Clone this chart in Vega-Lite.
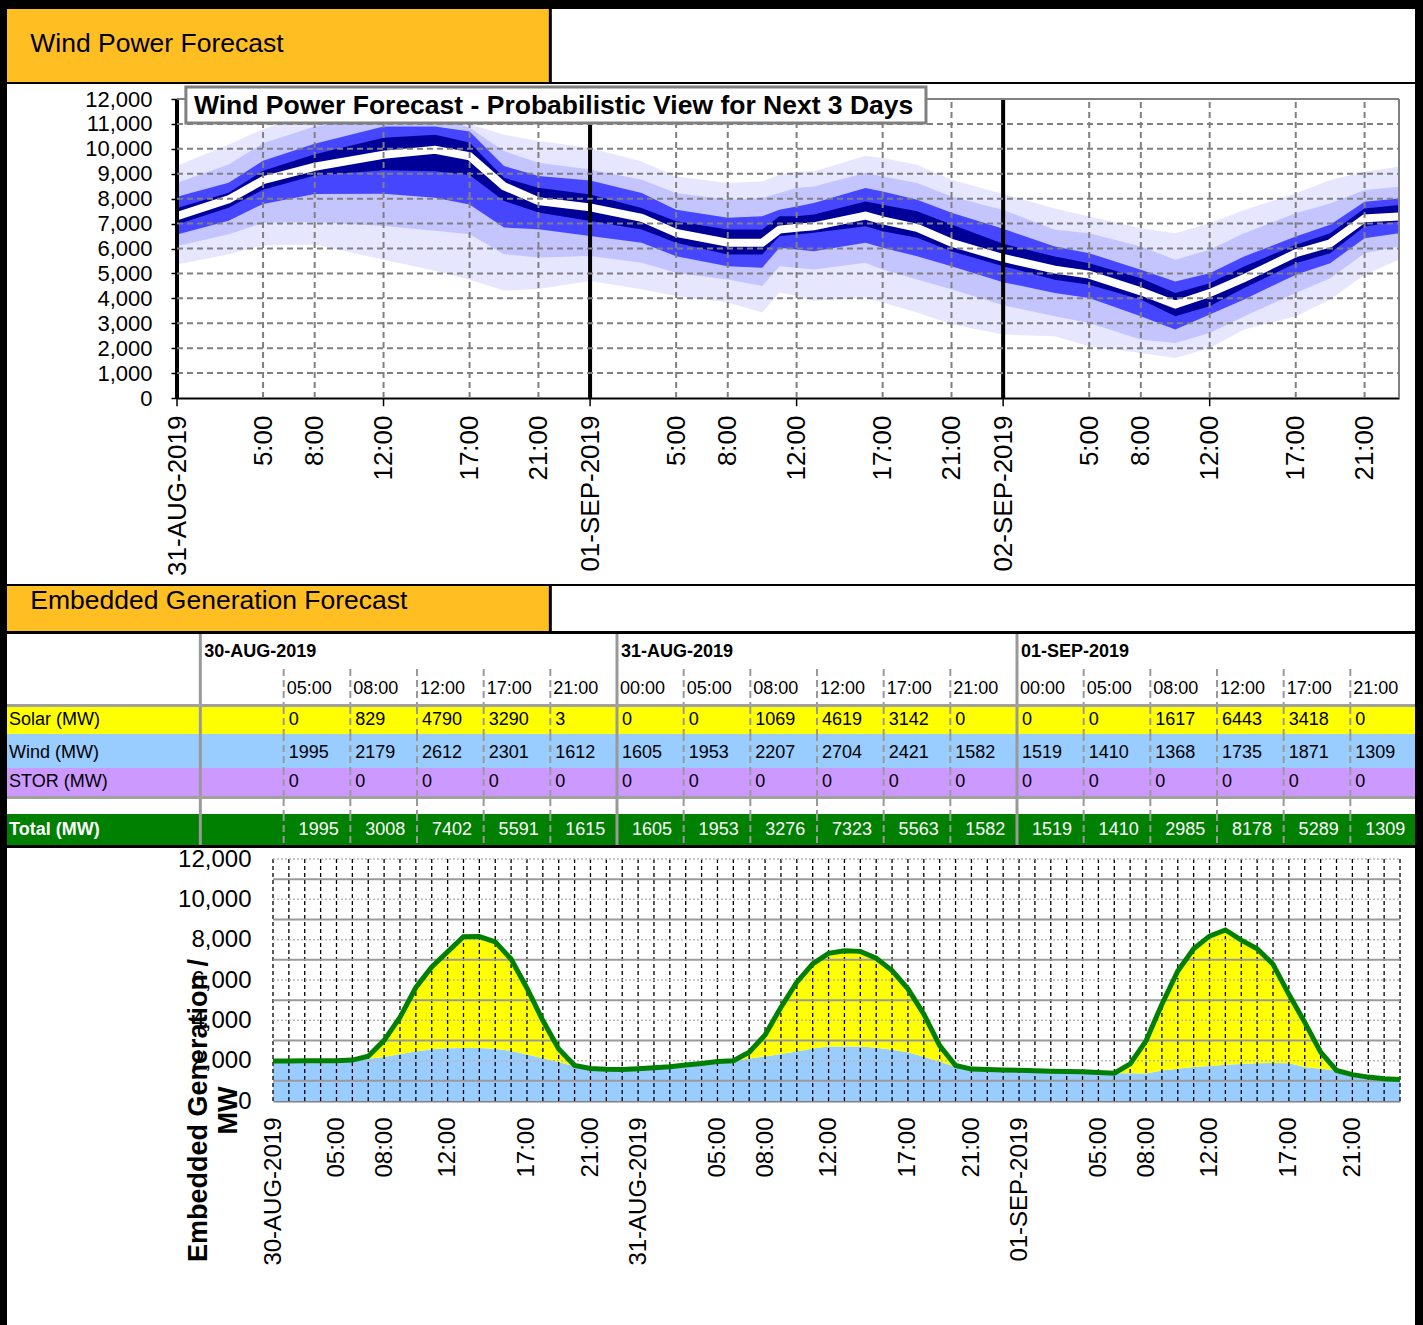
{
"$schema": "https://vega.github.io/schema/vega-lite/v6.json",
"background": "black",
"padding": {"left": 7, "top": 7, "right": 8, "bottom": 0},
"config": {
  "font": "Liberation Sans",
  "view": {"stroke": null},
  "concat": {"spacing": 0},
  "axis": {"labelFont": "Liberation Sans", "titleFont": "Liberation Sans", "labelColor": "black", "titleColor": "black"},
  "text": {"font": "Liberation Sans", "color": "black"}
},
"datasets": {
  "bands": [
    {"t":"2019-08-31T00:00Z","hi4":9320,"hi3":8630,"hi2":8080,"hi1":7630,"med":7300,"lo1":6960,"lo2":6560,"lo3":6100,"lo4":5360},
    {"t":"2019-08-31T03:00Z","hi4":10170,"hi3":9370,"hi2":8640,"hi1":8240,"med":7970,"lo1":7640,"lo2":7110,"lo3":6570,"lo4":5770},
    {"t":"2019-08-31T05:00Z","hi4":10790,"hi3":10220,"hi2":9520,"hi1":9120,"med":8740,"lo1":8360,"lo2":7790,"lo3":7030,"lo4":6120},
    {"t":"2019-08-31T08:00Z","hi4":11500,"hi3":10900,"hi2":10200,"hi1":9780,"med":9280,"lo1":8930,"lo2":8190,"lo3":7060,"lo4":6160},
    {"t":"2019-08-31T12:00Z","hi4":11800,"hi3":11300,"hi2":10900,"hi1":10440,"med":9760,"lo1":9140,"lo2":8200,"lo3":6900,"lo4":5550},
    {"t":"2019-08-31T15:00Z","hi4":11700,"hi3":11300,"hi2":10900,"hi1":10570,"med":9960,"lo1":9100,"lo2":8040,"lo3":6710,"lo4":5110},
    {"t":"2019-08-31T17:00Z","hi4":11000,"hi3":10850,"hi2":10700,"hi1":10250,"med":9700,"lo1":8950,"lo2":7770,"lo3":6570,"lo4":4750},
    {"t":"2019-08-31T19:00Z","hi4":10570,"hi3":9910,"hi2":9310,"hi1":8840,"med":8500,"lo1":7910,"lo2":6840,"lo3":5770,"lo4":4310},
    {"t":"2019-08-31T21:00Z","hi4":10310,"hi3":9440,"hi2":8910,"hi1":8440,"med":7900,"lo1":7440,"lo2":6770,"lo3":5640,"lo4":4370},
    {"t":"2019-09-01T00:00Z","hi4":10030,"hi3":9170,"hi2":8730,"hi1":8170,"med":7650,"lo1":7100,"lo2":6500,"lo3":5700,"lo4":4700},
    {"t":"2019-09-01T03:00Z","hi4":9490,"hi3":8760,"hi2":8230,"hi1":7630,"med":7230,"lo1":6760,"lo2":6230,"lo3":5430,"lo4":4360},
    {"t":"2019-09-01T05:00Z","hi4":8890,"hi3":8230,"hi2":7560,"hi1":7090,"med":6630,"lo1":6230,"lo2":5690,"lo3":5030,"lo4":4090},
    {"t":"2019-09-01T08:00Z","hi4":8630,"hi3":7960,"hi2":7230,"hi1":6760,"med":6230,"lo1":5760,"lo2":5290,"lo3":4760,"lo4":3830},
    {"t":"2019-09-01T10:00Z","hi4":8690,"hi3":8030,"hi2":7290,"hi1":6760,"med":6230,"lo1":5760,"lo2":5230,"lo3":4490,"lo4":3430},
    {"t":"2019-09-01T11:00Z","hi4":8960,"hi3":8230,"hi2":7560,"hi1":7290,"med":6760,"lo1":6490,"lo2":6030,"lo3":5290,"lo4":4230},
    {"t":"2019-09-01T12:00Z","hi4":9090,"hi3":8430,"hi2":7690,"hi1":7290,"med":6830,"lo1":6560,"lo2":5960,"lo3":5230,"lo4":4090},
    {"t":"2019-09-01T13:00Z","hi4":9090,"hi3":8490,"hi2":7830,"hi1":7360,"med":6890,"lo1":6630,"lo2":5890,"lo3":5160,"lo4":3900},
    {"t":"2019-09-01T16:00Z","hi4":9720,"hi3":9030,"hi2":8430,"hi1":7890,"med":7320,"lo1":6890,"lo2":6230,"lo3":5430,"lo4":4030},
    {"t":"2019-09-01T17:00Z","hi4":9630,"hi3":8890,"hi2":8290,"hi1":7760,"med":7130,"lo1":6690,"lo2":6030,"lo3":5160,"lo4":3830},
    {"t":"2019-09-01T19:00Z","hi4":9360,"hi3":8630,"hi2":7960,"hi1":7490,"med":6830,"lo1":6430,"lo2":5690,"lo3":4760,"lo4":3430},
    {"t":"2019-09-01T21:00Z","hi4":8760,"hi3":8090,"hi2":7430,"hi1":6960,"med":6230,"lo1":5890,"lo2":5290,"lo3":4360,"lo4":2960},
    {"t":"2019-09-02T00:00Z","hi4":8190,"hi3":7550,"hi2":6790,"hi1":6190,"med":5620,"lo1":5290,"lo2":4650,"lo3":3720,"lo4":2550},
    {"t":"2019-09-02T03:00Z","hi4":7610,"hi3":6750,"hi2":6080,"hi1":5680,"med":5150,"lo1":4750,"lo2":4210,"lo3":3280,"lo4":2480},
    {"t":"2019-09-02T05:00Z","hi4":7280,"hi3":6610,"hi2":5810,"hi1":5410,"med":4950,"lo1":4550,"lo2":4010,"lo3":3010,"lo4":2080},
    {"t":"2019-09-02T08:00Z","hi4":6810,"hi3":6080,"hi2":5150,"hi1":4810,"med":4280,"lo1":3950,"lo2":3280,"lo3":2350,"lo4":1810},
    {"t":"2019-09-02T10:00Z","hi4":6610,"hi3":5550,"hi2":4680,"hi1":4210,"med":3750,"lo1":3280,"lo2":2750,"lo3":2210,"lo4":1610},
    {"t":"2019-09-02T12:00Z","hi4":7010,"hi3":5950,"hi2":5010,"hi1":4610,"med":4210,"lo1":3680,"lo2":3350,"lo3":2610,"lo4":2010},
    {"t":"2019-09-02T14:00Z","hi4":7550,"hi3":6610,"hi2":5680,"hi1":5280,"med":4810,"lo1":4410,"lo2":3950,"lo3":3280,"lo4":2750},
    {"t":"2019-09-02T17:00Z","hi4":8210,"hi3":7410,"hi2":6480,"hi1":6150,"med":5810,"lo1":5410,"lo2":4950,"lo3":4210,"lo4":3280},
    {"t":"2019-09-02T19:00Z","hi4":8750,"hi3":7810,"hi2":6950,"hi1":6610,"med":6210,"lo1":5810,"lo2":5410,"lo3":4810,"lo4":3950},
    {"t":"2019-09-02T21:00Z","hi4":9080,"hi3":8350,"hi2":7880,"hi1":7610,"med":7210,"lo1":6880,"lo2":6410,"lo3":5810,"lo4":4950},
    {"t":"2019-09-02T23:00Z","hi4":9280,"hi3":8480,"hi2":8010,"hi1":7750,"med":7280,"lo1":7080,"lo2":6610,"lo3":6080,"lo4":5550}
  ],
  "gen": [
    {"t":"2019-08-30T01:00Z","wind":1980,"solar":0,"total":1980},
    {"t":"2019-08-30T02:00Z","wind":1985,"solar":0,"total":1985},
    {"t":"2019-08-30T03:00Z","wind":1990,"solar":0,"total":1990},
    {"t":"2019-08-30T04:00Z","wind":1992,"solar":0,"total":1992},
    {"t":"2019-08-30T05:00Z","wind":1995,"solar":0,"total":1995},
    {"t":"2019-08-30T06:00Z","wind":2030,"solar":0,"total":2030},
    {"t":"2019-08-30T07:00Z","wind":2100,"solar":120,"total":2220},
    {"t":"2019-08-30T08:00Z","wind":2179,"solar":829,"total":3008},
    {"t":"2019-08-30T09:00Z","wind":2330,"solar":1820,"total":4150},
    {"t":"2019-08-30T10:00Z","wind":2460,"solar":3170,"total":5630},
    {"t":"2019-08-30T11:00Z","wind":2560,"solar":4090,"total":6650},
    {"t":"2019-08-30T12:00Z","wind":2612,"solar":4790,"total":7402},
    {"t":"2019-08-30T13:00Z","wind":2630,"solar":5520,"total":8150},
    {"t":"2019-08-30T14:00Z","wind":2625,"solar":5530,"total":8155},
    {"t":"2019-08-30T15:00Z","wind":2590,"solar":5300,"total":7890},
    {"t":"2019-08-30T16:00Z","wind":2480,"solar":4560,"total":7040},
    {"t":"2019-08-30T17:00Z","wind":2301,"solar":3290,"total":5591},
    {"t":"2019-08-30T18:00Z","wind":2120,"solar":1870,"total":3990},
    {"t":"2019-08-30T19:00Z","wind":1930,"solar":650,"total":2580},
    {"t":"2019-08-30T20:00Z","wind":1720,"solar":40,"total":1760},
    {"t":"2019-08-30T21:00Z","wind":1612,"solar":3,"total":1615},
    {"t":"2019-08-30T22:00Z","wind":1570,"solar":0,"total":1570},
    {"t":"2019-08-30T23:00Z","wind":1560,"solar":0,"total":1560},
    {"t":"2019-08-31T00:00Z","wind":1605,"solar":0,"total":1605},
    {"t":"2019-08-31T01:00Z","wind":1650,"solar":0,"total":1650},
    {"t":"2019-08-31T02:00Z","wind":1700,"solar":0,"total":1700},
    {"t":"2019-08-31T03:00Z","wind":1780,"solar":0,"total":1780},
    {"t":"2019-08-31T04:00Z","wind":1860,"solar":0,"total":1860},
    {"t":"2019-08-31T05:00Z","wind":1953,"solar":0,"total":1953},
    {"t":"2019-08-31T06:00Z","wind":2000,"solar":0,"total":2000},
    {"t":"2019-08-31T07:00Z","wind":2110,"solar":310,"total":2420},
    {"t":"2019-08-31T08:00Z","wind":2207,"solar":1069,"total":3276},
    {"t":"2019-08-31T09:00Z","wind":2330,"solar":2320,"total":4650},
    {"t":"2019-08-31T10:00Z","wind":2450,"solar":3440,"total":5890},
    {"t":"2019-08-31T11:00Z","wind":2600,"solar":4200,"total":6800},
    {"t":"2019-08-31T12:00Z","wind":2704,"solar":4619,"total":7323},
    {"t":"2019-08-31T13:00Z","wind":2700,"solar":4750,"total":7450},
    {"t":"2019-08-31T14:00Z","wind":2700,"solar":4720,"total":7420},
    {"t":"2019-08-31T15:00Z","wind":2640,"solar":4440,"total":7080},
    {"t":"2019-08-31T16:00Z","wind":2540,"solar":3930,"total":6470},
    {"t":"2019-08-31T17:00Z","wind":2421,"solar":3142,"total":5563},
    {"t":"2019-08-31T18:00Z","wind":2200,"solar":2110,"total":4310},
    {"t":"2019-08-31T19:00Z","wind":1950,"solar":800,"total":2750},
    {"t":"2019-08-31T20:00Z","wind":1700,"solar":60,"total":1760},
    {"t":"2019-08-31T21:00Z","wind":1582,"solar":0,"total":1582},
    {"t":"2019-08-31T22:00Z","wind":1560,"solar":0,"total":1560},
    {"t":"2019-08-31T23:00Z","wind":1540,"solar":0,"total":1540},
    {"t":"2019-09-01T00:00Z","wind":1519,"solar":0,"total":1519},
    {"t":"2019-09-01T01:00Z","wind":1500,"solar":0,"total":1500},
    {"t":"2019-09-01T02:00Z","wind":1480,"solar":0,"total":1480},
    {"t":"2019-09-01T03:00Z","wind":1465,"solar":0,"total":1465},
    {"t":"2019-09-01T04:00Z","wind":1450,"solar":0,"total":1450},
    {"t":"2019-09-01T05:00Z","wind":1410,"solar":0,"total":1410},
    {"t":"2019-09-01T06:00Z","wind":1380,"solar":0,"total":1380},
    {"t":"2019-09-01T07:00Z","wind":1370,"solar":470,"total":1840},
    {"t":"2019-09-01T08:00Z","wind":1368,"solar":1617,"total":2985},
    {"t":"2019-09-01T09:00Z","wind":1510,"solar":3290,"total":4800},
    {"t":"2019-09-01T10:00Z","wind":1600,"solar":4850,"total":6450},
    {"t":"2019-09-01T11:00Z","wind":1680,"solar":5870,"total":7550},
    {"t":"2019-09-01T12:00Z","wind":1735,"solar":6443,"total":8178},
    {"t":"2019-09-01T13:00Z","wind":1800,"solar":6680,"total":8480},
    {"t":"2019-09-01T14:00Z","wind":1840,"solar":6140,"total":7980},
    {"t":"2019-09-01T15:00Z","wind":1870,"solar":5680,"total":7550},
    {"t":"2019-09-01T16:00Z","wind":1880,"solar":4900,"total":6780},
    {"t":"2019-09-01T17:00Z","wind":1871,"solar":3418,"total":5289},
    {"t":"2019-09-01T18:00Z","wind":1680,"solar":2220,"total":3900},
    {"t":"2019-09-01T19:00Z","wind":1600,"solar":820,"total":2420},
    {"t":"2019-09-01T20:00Z","wind":1515,"solar":0,"total":1515},
    {"t":"2019-09-01T21:00Z","wind":1309,"solar":0,"total":1309},
    {"t":"2019-09-01T22:00Z","wind":1185,"solar":0,"total":1185},
    {"t":"2019-09-01T23:00Z","wind":1100,"solar":0,"total":1100},
    {"t":"2019-09-02T00:00Z","wind":1070,"solar":0,"total":1070}
  ],
  "table": [
    {"col":0,"date":"30-AUG-2019","time":"05:00","solar":0,"wind":1995,"stor":0,"total":1995},
    {"col":1,"date":"30-AUG-2019","time":"08:00","solar":829,"wind":2179,"stor":0,"total":3008},
    {"col":2,"date":"30-AUG-2019","time":"12:00","solar":4790,"wind":2612,"stor":0,"total":7402},
    {"col":3,"date":"30-AUG-2019","time":"17:00","solar":3290,"wind":2301,"stor":0,"total":5591},
    {"col":4,"date":"30-AUG-2019","time":"21:00","solar":3,"wind":1612,"stor":0,"total":1615},
    {"col":5,"date":"31-AUG-2019","time":"00:00","solar":0,"wind":1605,"stor":0,"total":1605},
    {"col":6,"date":"31-AUG-2019","time":"05:00","solar":0,"wind":1953,"stor":0,"total":1953},
    {"col":7,"date":"31-AUG-2019","time":"08:00","solar":1069,"wind":2207,"stor":0,"total":3276},
    {"col":8,"date":"31-AUG-2019","time":"12:00","solar":4619,"wind":2704,"stor":0,"total":7323},
    {"col":9,"date":"31-AUG-2019","time":"17:00","solar":3142,"wind":2421,"stor":0,"total":5563},
    {"col":10,"date":"31-AUG-2019","time":"21:00","solar":0,"wind":1582,"stor":0,"total":1582},
    {"col":11,"date":"01-SEP-2019","time":"00:00","solar":0,"wind":1519,"stor":0,"total":1519},
    {"col":12,"date":"01-SEP-2019","time":"05:00","solar":0,"wind":1410,"stor":0,"total":1410},
    {"col":13,"date":"01-SEP-2019","time":"08:00","solar":1617,"wind":1368,"stor":0,"total":2985},
    {"col":14,"date":"01-SEP-2019","time":"12:00","solar":6443,"wind":1735,"stor":0,"total":8178},
    {"col":15,"date":"01-SEP-2019","time":"17:00","solar":3418,"wind":1871,"stor":0,"total":5289},
    {"col":16,"date":"01-SEP-2019","time":"21:00","solar":0,"wind":1309,"stor":0,"total":1309}
  ]
},
"spacing": 0,
"bounds": "flush",
"vconcat": [
  {"width": 1408, "height": 73, "view": {"fill": "white"}, "data": {"values": [{}]},
   "layer": [
    {"mark": {"type": "rect", "color": "#FFBF22"},
     "encoding": {"x": {"datum": -4.15, "scale": {"domain": [-4.15, 16.97], "nice": false, "zero": false}, "axis": null}, "x2": {"datum": 4},
                  "y": {"datum": 0, "scale": {"domain": [0, 1], "nice": false}, "axis": null}, "y2": {"datum": 1}}},
    {"mark": {"type": "rule", "color": "black", "strokeWidth": 3}, "encoding": {"x": {"datum": 4, "axis": null}}},
    {"mark": {"type": "text", "text": "Wind Power Forecast", "align": "left", "fontSize": 26.5, "dy": -2}, "encoding": {"x": {"datum": -3.8, "axis": null}}}
   ]},
  {"width": 1408, "height": 2, "data": {"values": []}, "mark": "point", "view": {"fill": "black"}},
  {"width": 1408, "height": 500, "view": {"fill": "white"}, "data": {"name": "bands"},
   "resolve": {"axis": {"x": "independent", "y": "independent"}},
   "layer": [
    {"mark": {"type": "area", "color": "#E6E6FF"},
     "encoding": {
       "x": {"field": "t", "type": "temporal",
             "scale": {"type": "utc", "domain": [1567209600000, 1567465200000], "range": [170, 1392], "nice": false},
             "axis": {"orient": "bottom", "offset": -186,
                      "values": [1567209600000,1567227600000,1567238400000,1567252800000,1567270800000,1567285200000,1567296000000,1567314000000,1567324800000,1567339200000,1567357200000,1567371600000,1567382400000,1567400400000,1567411200000,1567425600000,1567443600000,1567458000000],
                      "labelExpr": "utchours(datum.value)==0 ? upper(utcFormat(datum.value,'%d-%b-%Y')) : utcFormat(datum.value,'%-H:%M')",
                      "labelAngle": -90, "labelFontSize": 26, "labelPadding": 17, "labelOverlap": false, "labelFlush": false,
                      "ticks": false, "domainColor": "black", "domainWidth": 2, "grid": false, "title": null}},
       "y": {"field": "hi4", "type": "quantitative",
             "scale": {"domain": [0, 12000], "range": [314, 15], "nice": false},
             "axis": {"orient": "left", "offset": -170,
                      "values": [0,1000,2000,3000,4000,5000,6000,7000,8000,9000,10000,11000,12000],
                      "format": ",d", "labelFontSize": 22, "labelPadding": 19, "labelOverlap": false,
                      "tickSize": 6, "tickColor": "black", "tickWidth": 1.5,
                      "domainColor": "black", "domainWidth": 3, "grid": false, "title": null}},
       "y2": {"field": "lo4"}}},
    {"mark": {"type": "area", "color": "#C4C4FF"},
     "encoding": {"x": {"field": "t", "type": "temporal", "axis": null},
                  "y": {"field": "hi3", "type": "quantitative", "axis": null}, "y2": {"field": "lo3"}}},
    {"mark": {"type": "area", "color": "#4646FF"},
     "encoding": {"x": {"field": "t", "type": "temporal", "axis": null},
                  "y": {"field": "hi2", "type": "quantitative", "axis": null}, "y2": {"field": "lo2"}}},
    {"mark": {"type": "area", "color": "#000099"},
     "encoding": {"x": {"field": "t", "type": "temporal", "axis": null},
                  "y": {"field": "hi1", "type": "quantitative", "axis": null}, "y2": {"field": "lo1"}}},
    {"mark": {"type": "line", "color": "white", "strokeWidth": 8},
     "encoding": {"x": {"field": "t", "type": "temporal", "axis": null},
                  "y": {"field": "med", "type": "quantitative", "axis": null}}},
    {"transform": [{"filter": "indexof([0,5,8,12,17,21,23], utchours(datum.t)) >= 0"}],
     "mark": {"type": "rule"},
     "encoding": {"x": {"field": "t", "type": "temporal", "axis": null},
                  "y": {"datum": 0, "axis": null}, "y2": {"datum": 12000},
                  "color": {"condition": {"test": "utchours(datum.t) == 0", "value": "black"}, "value": "#808080"},
                  "strokeWidth": {"condition": {"test": "utchours(datum.t) == 0", "value": 4}, "value": 2},
                  "strokeDash": {"condition": {"test": "utchours(datum.t) == 0 || utchours(datum.t) == 23", "value": [1, 0]}, "value": [6, 4]}}},
    {"transform": [{"filter": "utchours(datum.t) % 12 == 0"}],
     "mark": {"type": "rule", "color": "black", "strokeWidth": 1.5},
     "encoding": {"x": {"field": "t", "type": "temporal", "axis": null},
                  "y": {"datum": 0, "axis": null}, "y2": {"datum": -330}}},
    {"data": {"values": [{"v":1000},{"v":2000},{"v":3000},{"v":4000},{"v":5000},{"v":6000},{"v":7000},{"v":8000},{"v":9000},{"v":10000},{"v":11000},{"v":12000}]},
     "mark": {"type": "rule", "color": "#808080", "strokeWidth": 2},
     "encoding": {"y": {"field": "v", "type": "quantitative", "axis": null},
                  "x": {"datum": {"year": 2019, "month": 8, "date": 31, "hours": 0, "utc": true}, "axis": null},
                  "x2": {"datum": {"year": 2019, "month": 9, "date": 2, "hours": 23, "utc": true}},
                  "strokeDash": {"condition": {"test": "datum.v == 12000", "value": [1, 0]}, "value": [6, 4]}}},
    {"data": {"values": [{}]},
     "mark": {"type": "rect", "fill": "white", "stroke": "#808080", "strokeWidth": 3},
     "encoding": {"x": {"datum": {"year": 2019, "month": 8, "date": 31, "hours": 0, "minutes": 31, "utc": true}, "axis": null},
                  "x2": {"datum": {"year": 2019, "month": 9, "date": 1, "hours": 19, "minutes": 31, "utc": true}},
                  "y": {"datum": 12480, "axis": null}, "y2": {"datum": 11040}}},
    {"data": {"values": [{}]},
     "mark": {"type": "text", "text": "Wind Power Forecast - Probabilistic View for Next 3 Days", "align": "left", "baseline": "alphabetic", "fontSize": 26.5, "fontWeight": "bold"},
     "encoding": {"x": {"datum": {"year": 2019, "month": 8, "date": 31, "hours": 0, "minutes": 59, "utc": true}, "axis": null},
                  "y": {"datum": 11398, "axis": null}}}
   ]},
  {"width": 1408, "height": 2, "data": {"values": []}, "mark": "point", "view": {"fill": "black"}},
  {"width": 1408, "height": 45, "view": {"fill": "white"}, "data": {"values": [{}]},
   "layer": [
    {"mark": {"type": "rect", "color": "#FFBF22"},
     "encoding": {"x": {"datum": -4.15, "scale": {"domain": [-4.15, 16.97], "nice": false, "zero": false}, "axis": null}, "x2": {"datum": 4},
                  "y": {"datum": 0, "scale": {"domain": [0, 1], "nice": false}, "axis": null}, "y2": {"datum": 1}}},
    {"mark": {"type": "rule", "color": "black", "strokeWidth": 3}, "encoding": {"x": {"datum": 4, "axis": null}}},
    {"mark": {"type": "text", "text": "Embedded Generation Forecast", "align": "left", "fontSize": 26.5, "dy": -8}, "encoding": {"x": {"datum": -3.8, "axis": null}}}
   ]},
  {"width": 1408, "height": 3, "data": {"values": []}, "mark": "point", "view": {"fill": "black"}},
  {"width": 1408, "height": 35, "view": {"fill": "white"}, "data": {"name": "table"},
   "layer": [
    {"transform": [{"filter": "datum.time == '00:00'"}], "mark": {"type": "rule", "color": "#999999", "strokeWidth": 3},
     "encoding": {"x": {"field": "col", "type": "quantitative", "scale": {"domain": [-4.15, 16.97], "nice": false, "zero": false}, "axis": null}}},
    {"data": {"values": [{}]}, "mark": {"type": "rule", "color": "#999999", "strokeWidth": 3},
     "encoding": {"x": {"datum": -1.25, "axis": null}}},
    {"transform": [{"filter": "datum.time == '00:00'"}], "mark": {"type": "text", "align": "left", "dx": 4, "fontSize": 18, "fontWeight": "bold"},
     "encoding": {"x": {"field": "col", "type": "quantitative", "axis": null}, "text": {"field": "date", "type": "nominal"}}},
    {"data": {"values": [{}]}, "mark": {"type": "text", "text": "30-AUG-2019", "align": "left", "dx": 4, "fontSize": 18, "fontWeight": "bold"},
     "encoding": {"x": {"datum": -1.25, "axis": null}}}
   ]},
  {"width": 1408, "height": 35, "view": {"fill": "white"}, "data": {"name": "table"},
   "layer": [
    {"transform": [{"filter": "datum.time != '00:00'"}], "mark": {"type": "rule", "color": "#999999", "strokeWidth": 2, "strokeDash": [7, 4]},
     "encoding": {"x": {"field": "col", "type": "quantitative", "scale": {"domain": [-4.15, 16.97], "nice": false, "zero": false}, "axis": null}}},
    {"transform": [{"filter": "datum.time == '00:00'"}], "mark": {"type": "rule", "color": "#999999", "strokeWidth": 3},
     "encoding": {"x": {"field": "col", "type": "quantitative", "axis": null}}},
    {"data": {"values": [{}]}, "mark": {"type": "rule", "color": "#999999", "strokeWidth": 3},
     "encoding": {"x": {"datum": -1.25, "axis": null}}},
    {"mark": {"type": "text", "align": "left", "dx": 3, "dy": 2, "fontSize": 18},
     "encoding": {"x": {"field": "col", "type": "quantitative", "axis": null}, "text": {"field": "time", "type": "nominal"}}}
   ]},
  {"width": 1408, "height": 3, "data": {"values": []}, "mark": "point", "view": {"fill": "#A0A0A0"}},
  {"width": 1408, "height": 27, "view": {"fill": "#FFFF00"}, "data": {"name": "table"},
   "layer": [
    {"transform": [{"filter": "datum.time != '00:00'"}], "mark": {"type": "rule", "color": "#999999", "strokeWidth": 2, "strokeDash": [7, 4]},
     "encoding": {"x": {"field": "col", "type": "quantitative", "scale": {"domain": [-4.15, 16.97], "nice": false, "zero": false}, "axis": null}}},
    {"transform": [{"filter": "datum.time == '00:00'"}], "mark": {"type": "rule", "color": "#999999", "strokeWidth": 3},
     "encoding": {"x": {"field": "col", "type": "quantitative", "axis": null}}},
    {"data": {"values": [{}]}, "mark": {"type": "rule", "color": "#999999", "strokeWidth": 3},
     "encoding": {"x": {"datum": -1.25, "axis": null}}},
    {"data": {"values": [{}]}, "mark": {"type": "text", "text": "Solar (MW)", "align": "left", "dy": -1, "fontSize": 18},
     "encoding": {"x": {"datum": -4.12, "axis": null}}},
    {"mark": {"type": "text", "align": "left", "dx": 5, "dy": -1, "fontSize": 18},
     "encoding": {"x": {"field": "col", "type": "quantitative", "axis": null}, "text": {"field": "solar", "type": "nominal"}}}
   ]},
  {"width": 1408, "height": 34, "view": {"fill": "#99CCFF"}, "data": {"name": "table"},
   "layer": [
    {"transform": [{"filter": "datum.time != '00:00'"}], "mark": {"type": "rule", "color": "#999999", "strokeWidth": 2, "strokeDash": [7, 4]},
     "encoding": {"x": {"field": "col", "type": "quantitative", "scale": {"domain": [-4.15, 16.97], "nice": false, "zero": false}, "axis": null}}},
    {"transform": [{"filter": "datum.time == '00:00'"}], "mark": {"type": "rule", "color": "#999999", "strokeWidth": 3},
     "encoding": {"x": {"field": "col", "type": "quantitative", "axis": null}}},
    {"data": {"values": [{}]}, "mark": {"type": "rule", "color": "#999999", "strokeWidth": 3},
     "encoding": {"x": {"datum": -1.25, "axis": null}}},
    {"data": {"values": [{}]}, "mark": {"type": "text", "text": "Wind (MW)", "align": "left", "dy": 2, "fontSize": 18},
     "encoding": {"x": {"datum": -4.12, "axis": null}}},
    {"mark": {"type": "text", "align": "left", "dx": 5, "dy": 2, "fontSize": 18},
     "encoding": {"x": {"field": "col", "type": "quantitative", "axis": null}, "text": {"field": "wind", "type": "nominal"}}}
   ]},
  {"width": 1408, "height": 28, "view": {"fill": "#CC99FF"}, "data": {"name": "table"},
   "layer": [
    {"transform": [{"filter": "datum.time != '00:00'"}], "mark": {"type": "rule", "color": "#999999", "strokeWidth": 2, "strokeDash": [7, 4]},
     "encoding": {"x": {"field": "col", "type": "quantitative", "scale": {"domain": [-4.15, 16.97], "nice": false, "zero": false}, "axis": null}}},
    {"transform": [{"filter": "datum.time == '00:00'"}], "mark": {"type": "rule", "color": "#999999", "strokeWidth": 3},
     "encoding": {"x": {"field": "col", "type": "quantitative", "axis": null}}},
    {"data": {"values": [{}]}, "mark": {"type": "rule", "color": "#999999", "strokeWidth": 3},
     "encoding": {"x": {"datum": -1.25, "axis": null}}},
    {"data": {"values": [{}]}, "mark": {"type": "text", "text": "STOR (MW)", "align": "left", "fontSize": 18},
     "encoding": {"x": {"datum": -4.12, "axis": null}}},
    {"mark": {"type": "text", "align": "left", "dx": 5, "fontSize": 18},
     "encoding": {"x": {"field": "col", "type": "quantitative", "axis": null}, "text": {"field": "stor", "type": "nominal"}}}
   ]},
  {"width": 1408, "height": 3, "data": {"values": []}, "mark": "point", "view": {"fill": "#A0A0A0"}},
  {"width": 1408, "height": 15, "view": {"fill": "white"}, "data": {"name": "table"},
   "layer": [
    {"transform": [{"filter": "datum.time != '00:00'"}], "mark": {"type": "rule", "color": "#999999", "strokeWidth": 2, "strokeDash": [7, 4]},
     "encoding": {"x": {"field": "col", "type": "quantitative", "scale": {"domain": [-4.15, 16.97], "nice": false, "zero": false}, "axis": null}}},
    {"transform": [{"filter": "datum.time == '00:00'"}], "mark": {"type": "rule", "color": "#999999", "strokeWidth": 3},
     "encoding": {"x": {"field": "col", "type": "quantitative", "axis": null}}},
    {"data": {"values": [{}]}, "mark": {"type": "rule", "color": "#999999", "strokeWidth": 3},
     "encoding": {"x": {"datum": -1.25, "axis": null}}}
   ]},
  {"width": 1408, "height": 31, "view": {"fill": "#008000"}, "data": {"name": "table"},
   "layer": [
    {"transform": [{"filter": "datum.time != '00:00'"}], "mark": {"type": "rule", "color": "#999999", "strokeWidth": 2, "strokeDash": [7, 4]},
     "encoding": {"x": {"field": "col", "type": "quantitative", "scale": {"domain": [-4.15, 16.97], "nice": false, "zero": false}, "axis": null}}},
    {"transform": [{"filter": "datum.time == '00:00'"}], "mark": {"type": "rule", "color": "#999999", "strokeWidth": 3},
     "encoding": {"x": {"field": "col", "type": "quantitative", "axis": null}}},
    {"data": {"values": [{}]}, "mark": {"type": "rule", "color": "#999999", "strokeWidth": 3},
     "encoding": {"x": {"datum": -1.25, "axis": null}}},
    {"data": {"values": [{}]}, "mark": {"type": "text", "text": "Total (MW)", "align": "left", "fontSize": 18, "fontWeight": "bold", "color": "white"},
     "encoding": {"x": {"datum": -4.12, "axis": null}}},
    {"mark": {"type": "text", "align": "right", "dx": 55, "fontSize": 18, "color": "white"},
     "encoding": {"x": {"field": "col", "type": "quantitative", "axis": null}, "text": {"field": "total", "type": "nominal"}}}
   ]},
  {"width": 1408, "height": 3, "data": {"values": []}, "mark": "point", "view": {"fill": "black"}},
  {"width": 1408, "height": 479, "view": {"fill": "white"}, "data": {"name": "gen"},
   "resolve": {"axis": {"x": "independent", "y": "independent"}},
   "layer": [
    {"mark": {"type": "area", "color": "#99CCFF"},
     "encoding": {
       "x": {"field": "t", "type": "temporal",
             "scale": {"type": "utc", "domain": [1567126800000, 1567382400000], "range": [266, 1393], "nice": false},
             "axis": {"orient": "bottom", "offset": -226,
                      "values": [1567126800000,1567141200000,1567152000000,1567166400000,1567184400000,1567198800000,1567209600000,1567227600000,1567238400000,1567252800000,1567270800000,1567285200000,1567296000000,1567314000000,1567324800000,1567339200000,1567357200000,1567371600000],
                      "labelExpr": "utchours(datum.value)==1 ? '30-AUG-2019' : utchours(datum.value)==0 ? upper(utcFormat(datum.value,'%d-%b-%Y')) : utcFormat(datum.value,'%H:%M')",
                      "labelAngle": -90, "labelFontSize": 24, "labelPadding": 16, "labelOverlap": false, "labelFlush": false,
                      "ticks": false, "domainColor": "#808080", "domainWidth": 2, "grid": false, "title": null}},
       "y": {"field": "wind", "type": "quantitative",
             "scale": {"domain": [0, 12000], "range": [253, 11], "nice": false},
             "axis": {"orient": "left", "offset": -266,
                      "values": [0,2000,4000,6000,8000,10000,12000], "format": ",d",
                      "labelFontSize": 24, "labelPadding": 22, "labelOverlap": false, "ticks": false, "domain": false, "grid": false,
                      "title": ["Embedded Generation /", "MW"], "titleFontSize": 27, "titleFontWeight": "bold",
                      "titleAngle": 270, "titleAlign": "center", "titleBaseline": "middle", "titleX": -75, "titleY": 262, "titleLineHeight": 30}}}},
    {"mark": {"type": "area", "color": "#FFFF00"},
     "encoding": {"x": {"field": "t", "type": "temporal", "axis": null},
                  "y": {"field": "total", "type": "quantitative", "axis": null}, "y2": {"field": "wind"}}},
    {"mark": {"type": "rule", "color": "black", "strokeWidth": 1.3, "strokeDash": [4, 3]},
     "encoding": {"x": {"field": "t", "type": "temporal", "axis": null},
                  "y": {"datum": 0, "axis": null}, "y2": {"datum": 12000}}},
    {"data": {"values": [{"v":1000},{"v":2000},{"v":3000},{"v":4000},{"v":5000},{"v":6000},{"v":7000},{"v":8000},{"v":9000},{"v":10000},{"v":11000},{"v":12000}]},
     "mark": {"type": "rule"},
     "encoding": {"y": {"field": "v", "type": "quantitative", "axis": null},
                  "x": {"datum": {"year": 2019, "month": 8, "date": 30, "hours": 1, "utc": true}, "axis": null},
                  "x2": {"datum": {"year": 2019, "month": 9, "date": 2, "hours": 0, "utc": true}},
                  "color": {"condition": {"test": "datum.v % 2000 == 0", "value": "#B8B8B8"}, "value": "#9A9A9A"},
                  "strokeWidth": {"condition": {"test": "datum.v % 2000 == 0", "value": 1.5}, "value": 2},
                  "strokeDash": {"condition": {"test": "datum.v % 2000 == 0", "value": [2, 2]}, "value": [1, 0]}}},
    {"mark": {"type": "line", "color": "#008000", "strokeWidth": 5},
     "encoding": {"x": {"field": "t", "type": "temporal", "axis": null},
                  "y": {"field": "total", "type": "quantitative", "axis": null}}}
   ]}
]
}
